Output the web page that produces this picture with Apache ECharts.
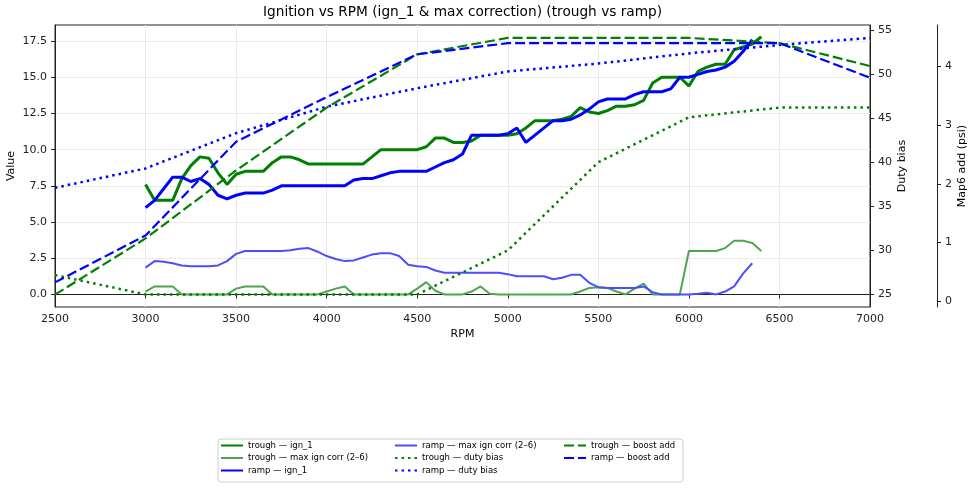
<!DOCTYPE html>
<html>
<head>
<meta charset="utf-8">
<title>Ignition vs RPM</title>
<script src="https://cdn.jsdelivr.net/npm/echarts@6/dist/echarts.min.js"></script>
<style>
  html, body { margin: 0; padding: 0; background: #fff; }
  #chart { width: 975px; height: 489px; }
</style>
</head>
<body>
<div id="chart"></div>
<script>
// rpm grid of the logged points
const rpmTrough = [3000, 3050, 3100, 3150, 3200, 3250, 3300, 3350, 3400, 3450, 3500, 3550, 3600, 3650, 3700, 3750, 3800, 3850, 3900, 3950,
  4000, 4050, 4100, 4150, 4200, 4250, 4300, 4350, 4400, 4450, 4500, 4550, 4600, 4650, 4700, 4750, 4800, 4850, 4900, 4950,
  5000, 5050, 5100, 5150, 5200, 5250, 5300, 5350, 5400, 5450, 5500, 5550, 5600, 5650, 5700, 5750, 5800, 5850, 5900, 5950,
  6000, 6050, 6100, 6150, 6200, 6250, 6300, 6350, 6400];
const rpmRamp = [3000, 3050, 3100, 3150, 3200, 3250, 3300, 3350, 3400, 3450, 3500, 3550, 3600, 3650, 3700, 3750, 3800, 3850, 3900, 3950,
  4000, 4050, 4100, 4150, 4200, 4250, 4300, 4350, 4400, 4450, 4500, 4550, 4600, 4650, 4700, 4750, 4800, 4850, 4900, 4950,
  5000, 5050, 5100, 5150, 5200, 5250, 5300, 5350, 5400, 5450, 5500, 5550, 5600, 5650, 5700, 5750, 5800, 5850, 5900, 5950,
  6000, 6050, 6100, 6150, 6200, 6250, 6300, 6350];

const troughIgn = [7.6, 6.5, 6.5, 6.5, 8.0, 8.9, 9.5, 9.4, 8.4, 7.6, 8.3, 8.5, 8.5, 8.5, 9.1, 9.5, 9.5, 9.3, 9.0, 9.0,
  9.0, 9.0, 9.0, 9.0, 9.0, 9.5, 10.0, 10.0, 10.0, 10.0, 10.0, 10.2, 10.8, 10.8, 10.5, 10.5, 10.6, 11.0, 11.0, 11.0,
  11.0, 11.1, 11.5, 12.0, 12.0, 12.0, 12.1, 12.3, 12.9, 12.6, 12.5, 12.7, 13.0, 13.0, 13.1, 13.4, 14.6, 15.0, 15.0, 15.0,
  14.4, 15.4, 15.7, 15.9, 15.9, 16.9, 17.1, 17.3, 17.8];
const troughMaxCorr = [0.2, 0.55, 0.55, 0.55, 0, 0, 0, 0, 0, 0, 0.4, 0.55, 0.55, 0.55, 0, 0, 0, 0, 0, 0,
  0.2, 0.4, 0.55, 0, 0, 0, 0, 0, 0, 0, 0.4, 0.85, 0.25, 0, 0, 0, 0.2, 0.55, 0.05, 0,
  0, 0, 0, 0, 0, 0, 0, 0, 0.2, 0.45, 0.5, 0.45, 0.2, 0, 0.4, 0.75, 0, 0, 0, 0,
  3.0, 3.0, 3.0, 3.0, 3.2, 3.7, 3.7, 3.55, 3.0];
const rampIgn = [6.0, 6.5, 7.3, 8.1, 8.1, 7.8, 8.0, 7.6, 6.85, 6.6, 6.85, 7.0, 7.0, 7.0, 7.2, 7.5, 7.5, 7.5, 7.5, 7.5,
  7.5, 7.5, 7.5, 7.9, 8.0, 8.0, 8.2, 8.4, 8.5, 8.5, 8.5, 8.5, 8.8, 9.1, 9.3, 9.7, 11.0, 11.0, 11.0, 11.0,
  11.1, 11.5, 10.5, 11.0, 11.5, 12.0, 12.0, 12.1, 12.4, 12.8, 13.3, 13.5, 13.5, 13.5, 13.8, 14.0, 14.0, 14.0, 14.2, 15.0,
  15.0, 15.2, 15.4, 15.5, 15.7, 16.1, 16.8, 17.6];
const rampMaxCorr = [1.85, 2.3, 2.25, 2.15, 2.0, 1.95, 1.95, 1.95, 2.0, 2.3, 2.8, 3.0, 3.0, 3.0, 3.0, 3.0, 3.05, 3.15, 3.2, 2.95,
  2.65, 2.45, 2.3, 2.35, 2.55, 2.75, 2.85, 2.85, 2.65, 2.05, 1.95, 1.9, 1.65, 1.5, 1.5, 1.5, 1.5, 1.5, 1.5, 1.5,
  1.4, 1.25, 1.25, 1.25, 1.25, 1.05, 1.15, 1.35, 1.35, 0.8, 0.5, 0.45, 0.45, 0.45, 0.45, 0.55, 0.15, 0, 0, 0,
  0, 0.05, 0.12, 0, 0.2, 0.55, 1.45, 2.15];

// duty bias / boost add tables
const rpmTable = [2500, 3000, 3500, 4000, 4500, 5000, 5500, 6000, 6500, 7000];
const troughDuty = [27.2, 25.0, 25.0, 25.0, 25.0, 30.0, 40.0, 45.1, 46.2, 46.2];
const rampDuty = [37.1, 39.3, 43.3, 46.3, 48.4, 50.3, 51.2, 52.35, 53.3, 54.1];
const troughBoost = [0.11, 1.07, 2.23, 3.3, 4.21, 4.49, 4.49, 4.49, 4.40, 4.01];
const rampBoost = [0.32, 1.12, 2.72, 3.48, 4.21, 4.40, 4.40, 4.40, 4.40, 3.81];

const valueTicks = [0, 2.5, 5, 7.5, 10, 12.5, 15, 17.5];
const dutyTicks = [25, 30, 35, 40, 45, 50, 55];
const boostTicks = [0, 1, 2, 3, 4];

const GREEN = '#008000';
const GREEN_LT = '#4da64d';
const BLUE = '#0000ff';
const BLUE_LT = '#4d4dff';
const INK = '#222';
const FONT = 'DejaVu Sans';

function pairs(xs, ys) {
  return xs.map((x, i) => [x, ys[i]]);
}

function line(name, xs, ys, axis, color, width, type) {
  return {
    name: name,
    type: 'line',
    yAxisIndex: axis,
    data: pairs(xs, ys),
    symbol: 'none',
    showSymbol: false,
    lineStyle: { color: color, width: width, type: type || 'solid' },
    itemStyle: { color: color },
    emphasis: { disabled: true }
  };
}

function yAxisBase(ticks, fmt) {
  return {
    type: 'value',
    axisLine: { show: true, lineStyle: { color: INK } },
    axisTick: { show: true, length: 4, customValues: ticks, lineStyle: { color: INK } },
    axisLabel: { customValues: ticks, fontSize: 11, color: INK, fontFamily: FONT, formatter: fmt },
    nameLocation: 'middle',
    nameMoveOverlap: false,
    nameTextStyle: { fontSize: 11, color: '#000', fontFamily: FONT }
  };
}

const legendCommon = {
  orient: 'vertical',
  top: 441,
  padding: 0,
  itemWidth: 22,
  itemHeight: 10,
  itemGap: 3.5,
  selectedMode: false,
  // hide the marker that echarts puts in the middle of line icons
  itemStyle: { color: 'rgba(0,0,0,0)', borderWidth: 0, opacity: 0 },
  textStyle: { fontSize: 8.5, color: '#000', fontFamily: FONT }
};

const chart = echarts.init(document.getElementById('chart'));
chart.setOption({
  animation: false,
  textStyle: { fontFamily: FONT },
  title: {
    text: 'Ignition vs RPM (ign_1 & max correction) (trough vs ramp)',
    left: 263,
    top: 5,
    padding: 0,
    textStyle: { fontSize: 13.7, fontWeight: 'normal', color: '#000', fontFamily: FONT }
  },
  grid: {
    left: 55, right: 105, top: 25, bottom: 182,
    outerBoundsMode: 'none', containLabel: false,
    show: true, borderColor: INK, borderWidth: 1
  },
  graphic: [{
    type: 'rect',
    shape: { x: 218, y: 439, width: 465, height: 43, r: 3 },
    style: { fill: '#fff', stroke: '#cfcfcf', lineWidth: 1 },
    z: 0
  }],
  legend: [
    Object.assign({ left: 220, data: ['trough — ign_1', 'trough — max ign corr (2–6)', 'ramp — ign_1'] }, legendCommon),
    Object.assign({ left: 394, data: ['ramp — max ign corr (2–6)', 'trough — duty bias', 'ramp — duty bias'] }, legendCommon),
    Object.assign({ left: 563, data: ['trough — boost add', 'ramp — boost add'] }, legendCommon)
  ],
  xAxis: {
    type: 'value',
    min: 2500,
    max: 7000,
    interval: 500,
    name: 'RPM',
    nameLocation: 'middle',
    nameGap: 22,
    nameMoveOverlap: false,
    nameTextStyle: { fontSize: 11, color: '#000', fontFamily: FONT },
    axisLine: { show: true, lineStyle: { color: INK } },
    axisTick: { show: true, length: 4, lineStyle: { color: INK } },
    axisLabel: { fontSize: 11, color: INK, margin: 7, fontFamily: FONT, formatter: v => String(v) },
    splitLine: { show: true, lineStyle: { color: '#ebebeb' } }
  },
  yAxis: [
    Object.assign(yAxisBase(valueTicks, v => v.toFixed(1)), {
      position: 'left', min: -0.87, max: 18.61, name: 'Value', nameGap: 38,
      splitLine: { show: true, lineStyle: { color: '#ebebeb' } }
    }),
    Object.assign(yAxisBase(dutyTicks, v => String(v)), {
      position: 'right', min: 23.58, max: 55.57, name: 'Duty bias', nameGap: 27, nameRotate: 90,
      splitLine: { show: false }
    }),
    Object.assign(yAxisBase(boostTicks, v => String(v)), {
      position: 'right', offset: 67, min: -0.10, max: 4.71, name: 'Map6 add (psi)', nameGap: 20, nameRotate: 90,
      splitLine: { show: false }
    })
  ],
  series: [
    line('trough — ign_1', rpmTrough, troughIgn, 0, GREEN, 3),
    line('trough — max ign corr (2–6)', rpmTrough, troughMaxCorr, 0, GREEN_LT, 2),
    line('ramp — ign_1', rpmRamp, rampIgn, 0, BLUE, 3),
    line('ramp — max ign corr (2–6)', rpmRamp, rampMaxCorr, 0, BLUE_LT, 2),
    line('trough — duty bias', rpmTable, troughDuty, 1, GREEN, 2.5, [2.5, 4]),
    line('ramp — duty bias', rpmTable, rampDuty, 1, BLUE, 2.5, [2.5, 4]),
    line('trough — boost add', rpmTable, troughBoost, 2, GREEN, 2.2, [10, 4]),
    line('ramp — boost add', rpmTable, rampBoost, 2, BLUE, 2.2, [10, 4])
  ]
});
</script>
</body>
</html>
